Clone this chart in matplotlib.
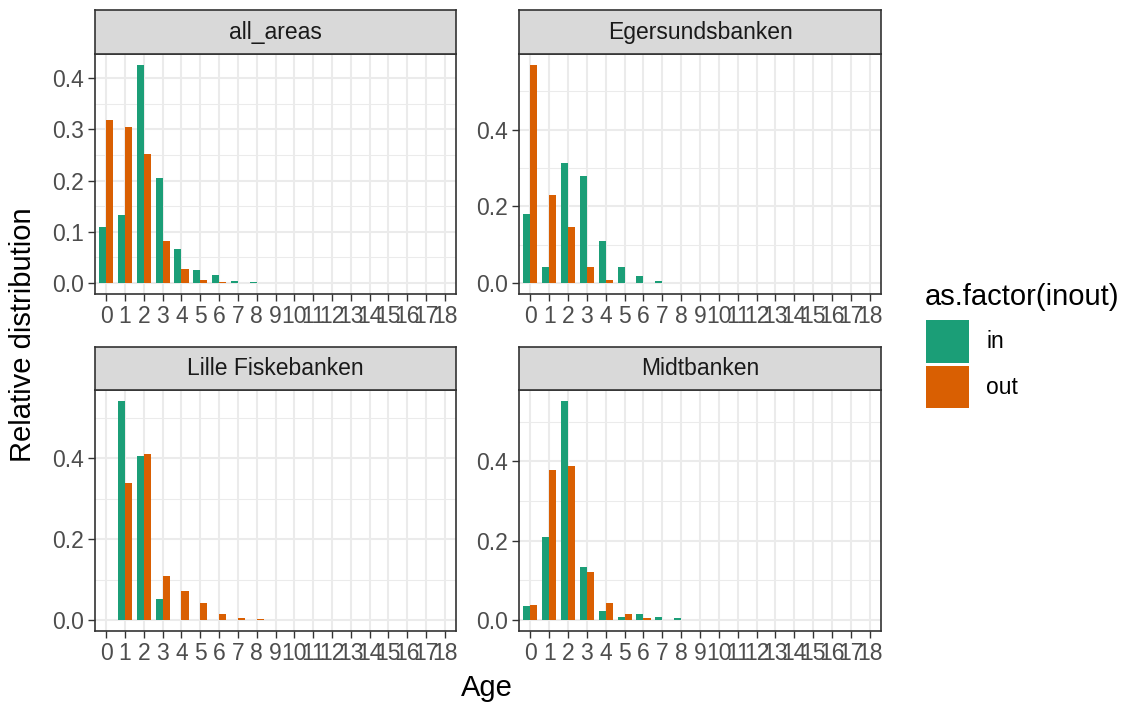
import matplotlib
matplotlib.use("Agg")
import matplotlib.pyplot as plt
import numpy as np

plt.rcParams['font.family'] = ['Liberation Sans', 'DejaVu Sans']

AGES = list(range(19))
AREAS = ["all_areas", "Egersundsbanken", "Lille Fiskebanken", "Midtbanken"]
GROUPS = ["in", "out"]

# relative distribution by age (0..18)
all_in = [0.110, 0.133, 0.426, 0.205, 0.067, 0.025, 0.016, 0.005, 0.003, 0.001] + [0] * 9
all_out = [0.318, 0.304, 0.253, 0.083, 0.027, 0.0065, 0.002, 0.001, 0.0005, 0] + [0] * 9
eger_in = [0.181, 0.041, 0.312, 0.278, 0.109, 0.041, 0.019, 0.006, 0.001, 0] + [0] * 9
eger_out = [0.569, 0.229, 0.145, 0.041, 0.007, 0, 0, 0, 0, 0] + [0] * 9
lille_in = [0, 0.542, 0.407, 0.051, 0.001, 0, 0, 0, 0, 0] + [0] * 9
lille_out = [0, 0.340, 0.410, 0.108, 0.071, 0.043, 0.016, 0.005, 0.002, 0] + [0] * 9
midt_in = [0.035, 0.208, 0.552, 0.133, 0.024, 0.0076, 0.014, 0.007, 0.005, 0.001] + [0] * 9
midt_out = [0.039, 0.379, 0.388, 0.120, 0.043, 0.014, 0.004, 0.001, 0.0005, 0] + [0] * 9

DATA = {
	"all_areas": (all_in, all_out),
	"Egersundsbanken": (eger_in, eger_out),
	"Lille Fiskebanken": (lille_in, lille_out),
	"Midtbanken": (midt_in, midt_out),
}

COLORS = {"in": "#1B9E77", "out": "#D95F02"}

TICK_FS = 16.5
TITLE_FS = 21

W, H = 1130, 704
fig = plt.figure(figsize=(W / 100, H / 100), dpi=100)


def px_axes(x1, y1, x2, y2):
	return fig.add_axes([x1 / W, 1 - y2 / H, (x2 - x1) / W, (y2 - y1) / H])


# panel boxes in pixels: (x1, x2, strip_top, plot_top, plot_bottom)
PANELS = [
	(95, 456, 10, 54, 294),
	(519, 881, 10, 54, 294),
	(95, 456, 347, 390, 631),
	(519, 881, 347, 390, 631),
]

BAR_W = 0.375
x = np.array(AGES)

for area, (x1, x2, st, pt, pb) in zip(AREAS, PANELS):
	vin, vout = DATA[area]
	ax = px_axes(x1, pt, x2, pb)
	ax.bar(x - BAR_W / 2, vin, width=BAR_W, color=COLORS["in"], zorder=3)
	ax.bar(x + BAR_W / 2, vout, width=BAR_W, color=COLORS["out"], zorder=3)

	ymax = max(max(vin), max(vout))
	ax.set_ylim(-0.05 * ymax, 1.05 * ymax)
	ax.set_xlim(-0.6, 18.6)

	if area == "all_areas":
		major = np.arange(0, 0.45, 0.1)
		minor = np.arange(0.05, 0.45, 0.1)
	else:
		major = np.arange(0, 0.45, 0.2)
		minor = np.arange(0.1, 0.6, 0.2)
	ax.set_yticks(major)
	ax.set_yticklabels(["%.1f" % v for v in major])
	ax.set_yticks(minor, minor=True)
	ax.set_xticks(AGES)
	ax.set_xticklabels([str(a) for a in AGES])

	ax.set_facecolor("white")
	ax.grid(which="major", color="#EBEBEB", linewidth=1.5, zorder=0)
	ax.grid(which="minor", axis="y", color="#EBEBEB", linewidth=0.75, zorder=0)
	ax.set_axisbelow(True)
	ax.tick_params(which="major", length=4.7, width=1.0, color="#333333",
				   labelsize=TICK_FS, labelcolor="#4D4D4D", pad=3)
	ax.tick_params(which="minor", length=0)
	for s in ax.spines.values():
		s.set_color("#333333")
		s.set_linewidth(1.2)
		s.set_zorder(5)

	# facet strip
	sax = px_axes(x1, st, x2, pt)
	sax.set_facecolor("#D9D9D9")
	sax.set_xticks([])
	sax.set_yticks([])
	for s in sax.spines.values():
		s.set_color("#333333")
		s.set_linewidth(1.2)
	sax.text(0.5, 0.5, area, ha="center", va="center", fontsize=TICK_FS,
			 color="#1A1A1A", transform=sax.transAxes)

# axis titles
fig.text(487 / W, 1 - 688 / H, "Age", ha="center", va="center", fontsize=TITLE_FS)
fig.text(23 / W, 1 - 335 / H, "Relative distribution", ha="center", va="center",
		 fontsize=TITLE_FS, rotation=90)

# legend
fig.text(925 / W, 1 - 297 / H, "as.factor(inout)", ha="left", va="center", fontsize=TITLE_FS)
for g, (ky1, ky2) in zip(GROUPS, [(320, 363), (366, 408)]):
	kax = px_axes(926, ky1, 969, ky2)
	kax.set_facecolor(COLORS[g])
	kax.set_xticks([])
	kax.set_yticks([])
	for s in kax.spines.values():
		s.set_visible(False)
	fig.text(986 / W, 1 - (ky1 + ky2) / 2 / H, g, ha="left", va="center", fontsize=TICK_FS)

fig.savefig("out.png", dpi=100)
